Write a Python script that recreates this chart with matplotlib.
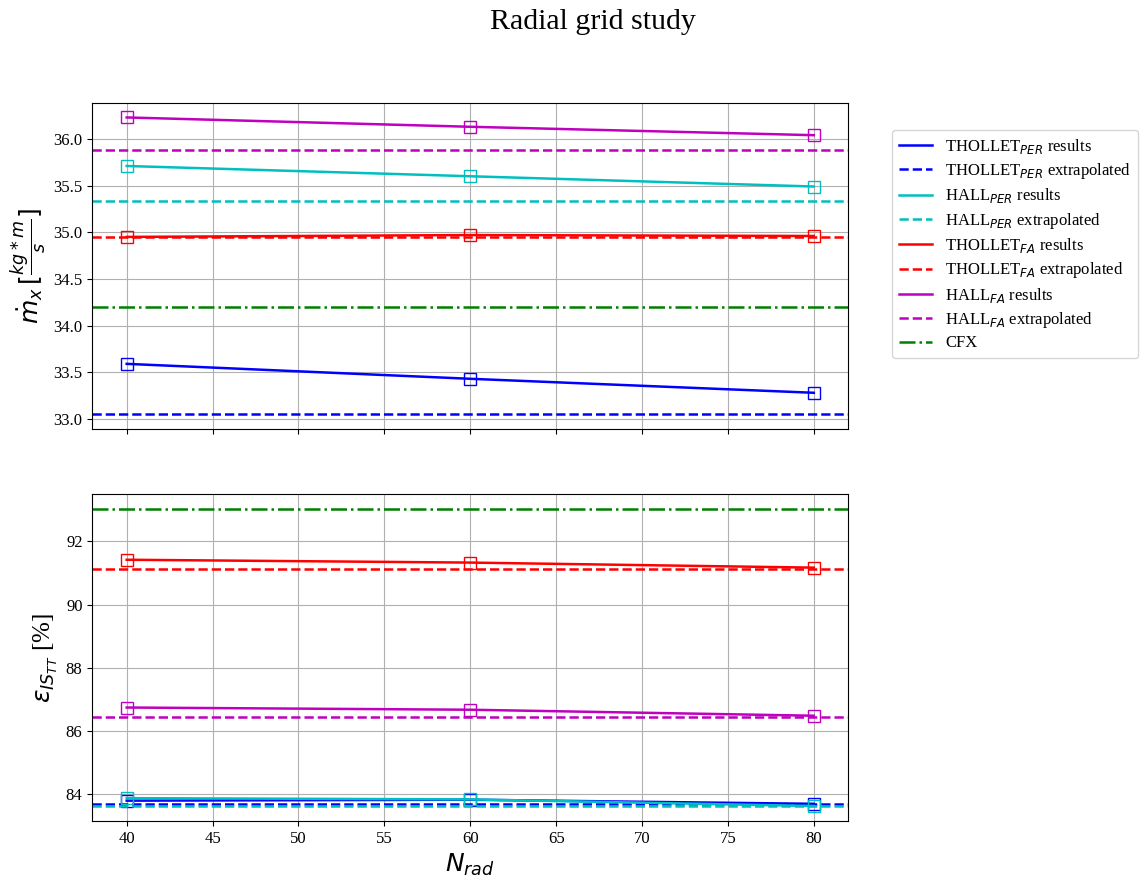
import matplotlib
matplotlib.use('Agg')
import matplotlib.pyplot as plt

plt.rcParams['font.family'] = 'serif'
plt.rcParams['font.serif'] = ['Liberation Serif', 'DejaVu Serif']
plt.rcParams['mathtext.fontset'] = 'dejavusans'

n_rad = [40, 60, 80]

# mass flow [kg*m/s]
mdot_thollet_per = [33.59, 33.43, 33.28]
mdot_hall_per = [35.71, 35.60, 35.49]
mdot_thollet_fa = [34.95, 34.97, 34.96]
mdot_hall_fa = [36.23, 36.13, 36.04]
mdot_extrap = [33.05, 35.33, 34.95, 35.88]  # thollet_per, hall_per, thollet_fa, hall_fa
mdot_cfx = 34.20

# isentropic efficiency [%]
eff_thollet_per = [83.79, 83.82, 83.69]
eff_hall_per = [83.87, 83.83, 83.62]
eff_thollet_fa = [91.42, 91.33, 91.17]
eff_hall_fa = [86.74, 86.67, 86.48]
eff_extrap = [83.68, 83.63, 91.13, 86.45]
eff_cfx = 93.02

names = ['THOLLET$_{PER}$', 'HALL$_{PER}$', 'THOLLET$_{FA}$', 'HALL$_{FA}$']
colors = ['b', 'c', 'r', 'm']

fig, (ax1, ax2) = plt.subplots(2, 1, sharex=True, figsize=(11.4, 8.77), dpi=100)
fig.subplots_adjust(left=0.081, right=0.744, top=0.883, bottom=0.064, hspace=0.2)

mdot = [mdot_thollet_per, mdot_hall_per, mdot_thollet_fa, mdot_hall_fa]
eff = [eff_thollet_per, eff_hall_per, eff_thollet_fa, eff_hall_fa]

for i in range(4):
    ax1.plot(n_rad, mdot[i], '-', color=colors[i], lw=1.8, label=names[i] + ' results')
    ax1.plot(n_rad, mdot[i], 's', color=colors[i], mfc='none', ms=8)
    ax1.axhline(mdot_extrap[i], ls='--', color=colors[i], lw=1.8, label=names[i] + ' extrapolated')
    ax2.plot(n_rad, eff[i], '-', color=colors[i], lw=1.8)
    ax2.plot(n_rad, eff[i], 's', color=colors[i], mfc='none', ms=8)
    ax2.axhline(eff_extrap[i], ls='--', color=colors[i], lw=1.8)
ax1.axhline(mdot_cfx, ls='-.', color='g', lw=1.8, label='CFX')
ax2.axhline(eff_cfx, ls='-.', color='g', lw=1.8)

ax1.set_ylabel(r'$\dot{m}_x\,[\frac{kg*m}{s}]$', fontsize=18)
ax2.set_ylabel(r'$\epsilon_{IS_{TT}}$ [%]', fontsize=18)
ax2.set_xlabel(r'$N_{rad}$', fontsize=18)
ax1.set_xticks(range(40, 81, 5))
for ax in (ax1, ax2):
    ax.grid(True)
    ax.tick_params(labelsize=12)

ax1.legend(loc='upper left', bbox_to_anchor=(1.058, 0.916), borderaxespad=0,
           fontsize=12, labelspacing=0.32)
fig.suptitle('Radial grid study', fontsize=21.5, x=0.52, y=0.99)

plt.savefig('out.png')
